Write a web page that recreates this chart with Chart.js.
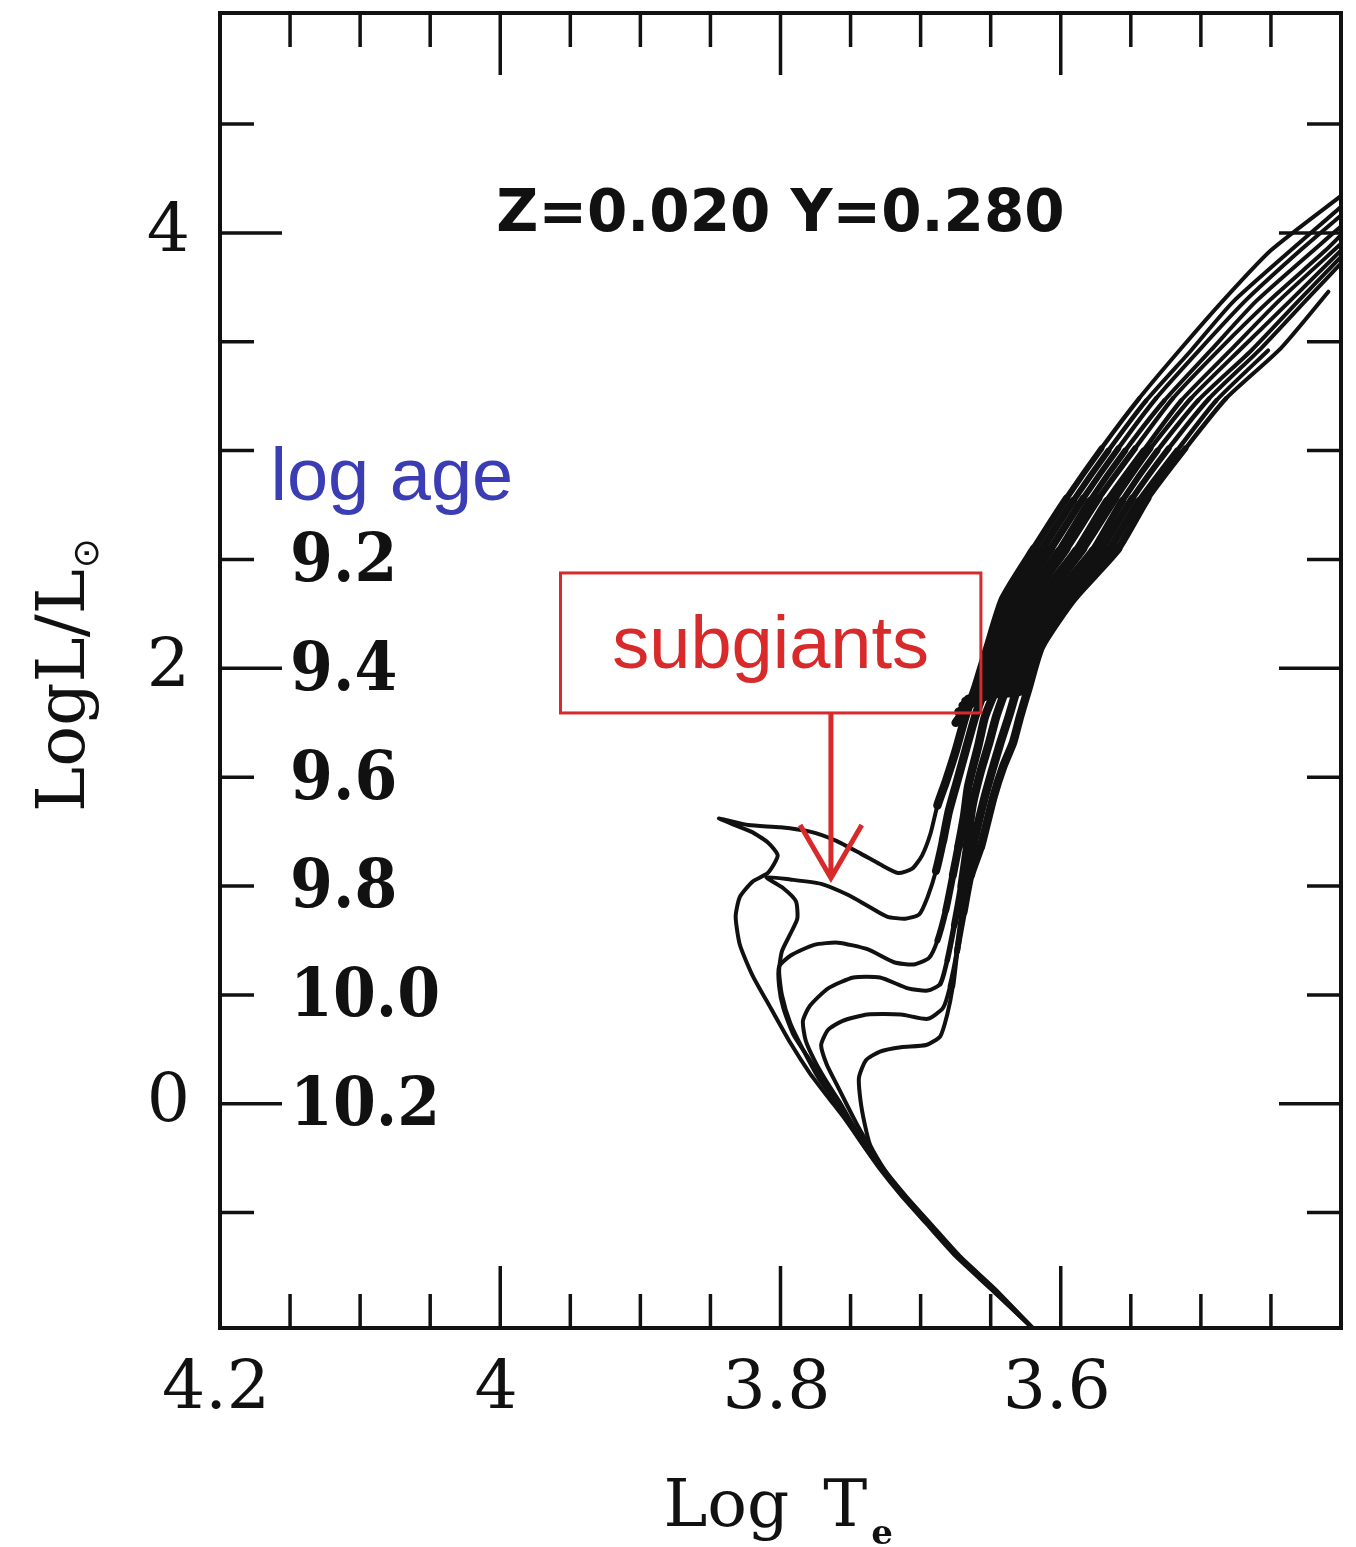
<!DOCTYPE html>
<html>
<head>
<meta charset="utf-8">
<script src="https://cdn.jsdelivr.net/npm/chart.js@4.4.1/dist/chart.umd.min.js"></script>
<style>
  html, body { margin: 0; padding: 0; background: #fff; }
  canvas { display: block; }
</style>
</head>
<body>
<canvas id="hr" width="1356" height="1547"></canvas>
<script>
/* global Chart:readonly */
// HR diagram: isochrones for log age 9.2 .. 10.2, Z=0.020 Y=0.280

// [log Te, log L/Lsun] along each isochrone: lower main sequence -> turnoff -> subgiants -> giant branch
const iso92 = [
  [3.617, -1.05], [3.650, -0.85], [3.675, -0.70], [3.696, -0.55], [3.714, -0.42], [3.729, -0.30],
  [3.741, -0.19], [3.754, -0.07], [3.766, 0.03], [3.779, 0.14], [3.793, 0.28], [3.807, 0.44],
  [3.820, 0.59], [3.829, 0.73], [3.832, 0.86], [3.829, 0.95], [3.820, 1.02], [3.809, 1.06],
  [3.802, 1.14], [3.809, 1.20], [3.821, 1.25], [3.844, 1.31], [3.823, 1.28], [3.800, 1.27],
  [3.779, 1.25], [3.761, 1.21], [3.743, 1.15], [3.729, 1.10], [3.716, 1.06], [3.706, 1.08],
  [3.699, 1.14], [3.693, 1.24], [3.688, 1.37], [3.682, 1.48], [3.675, 1.62], [3.668, 1.78],
  [3.661, 1.91], [3.652, 2.10], [3.641, 2.32], [3.619, 2.55], [3.596, 2.78], [3.571, 3.01],
  [3.544, 3.24], [3.514, 3.47], [3.484, 3.69], [3.450, 3.92], [3.400, 4.17]
]
const iso94 = [
  [3.617, -1.05], [3.6494, -0.85], [3.6744, -0.70], [3.6954, -0.55], [3.7134, -0.42], [3.7284, -0.30],
  [3.741, -0.19], [3.751, -0.09], [3.762, 0.02], [3.773, 0.12], [3.784, 0.25], [3.793, 0.37],
  [3.799, 0.50], [3.801, 0.61], [3.799, 0.70], [3.793, 0.78], [3.788, 0.85], [3.789, 0.93],
  [3.798, 0.99], [3.810, 1.04], [3.793, 1.03], [3.771, 1.01], [3.752, 0.96], [3.738, 0.91],
  [3.724, 0.86], [3.711, 0.85], [3.701, 0.87], [3.695, 0.95], [3.689, 1.07], [3.684, 1.21],
  [3.680, 1.34], [3.674, 1.48], [3.668, 1.62], [3.661, 1.78], [3.654, 1.91], [3.645, 2.10],
  [3.631, 2.32], [3.607, 2.55], [3.584, 2.78], [3.559, 3.01], [3.532, 3.24], [3.500, 3.47],
  [3.468, 3.69], [3.429, 3.92], [3.400, 4.08]
]
const iso96 = [
  [3.617, -1.05], [3.6488, -0.85], [3.6738, -0.70], [3.6948, -0.55], [3.7128, -0.42], [3.7278, -0.30],
  [3.740, -0.19], [3.750, -0.10], [3.760, 0.00], [3.770, 0.11], [3.781, 0.22], [3.791, 0.32],
  [3.798, 0.44], [3.801, 0.54], [3.801, 0.63], [3.793, 0.68], [3.776, 0.73], [3.759, 0.74],
  [3.738, 0.71], [3.719, 0.65], [3.705, 0.64], [3.694, 0.67], [3.688, 0.75], [3.682, 0.89],
  [3.677, 1.05], [3.673, 1.18], [3.669, 1.32], [3.666, 1.46], [3.659, 1.64], [3.654, 1.78],
  [3.646, 1.91], [3.638, 2.10], [3.621, 2.32], [3.596, 2.55], [3.573, 2.78], [3.547, 3.01],
  [3.520, 3.24], [3.486, 3.47], [3.451, 3.69], [3.411, 3.92], [3.400, 3.99]
]
const iso98 = [
  [3.617, -1.05], [3.6482, -0.85], [3.6732, -0.70], [3.6942, -0.55], [3.7122, -0.42], [3.7272, -0.30],
  [3.739, -0.19], [3.748, -0.10], [3.757, 0.00], [3.766, 0.09], [3.775, 0.19], [3.782, 0.29],
  [3.784, 0.38], [3.779, 0.45], [3.766, 0.53], [3.748, 0.58], [3.729, 0.58], [3.709, 0.53],
  [3.695, 0.52], [3.686, 0.55], [3.681, 0.66], [3.676, 0.82], [3.671, 1.00], [3.667, 1.18],
  [3.663, 1.37], [3.657, 1.53], [3.651, 1.66], [3.646, 1.78], [3.639, 1.91], [3.629, 2.10],
  [3.611, 2.32], [3.584, 2.55], [3.561, 2.78], [3.536, 3.01], [3.507, 3.24], [3.471, 3.47],
  [3.436, 3.69], [3.400, 3.92]
]
const iso100 = [
  [3.617, -1.05], [3.6476, -0.85], [3.6726, -0.70], [3.6936, -0.55], [3.7116, -0.42], [3.7266, -0.30],
  [3.737, -0.19], [3.745, -0.10], [3.753, 0.00], [3.760, 0.09], [3.767, 0.18], [3.771, 0.27],
  [3.766, 0.34], [3.756, 0.38], [3.738, 0.41], [3.714, 0.41], [3.695, 0.39], [3.684, 0.44],
  [3.679, 0.54], [3.674, 0.70], [3.670, 0.89], [3.666, 1.07], [3.661, 1.23], [3.655, 1.39],
  [3.649, 1.53], [3.643, 1.66], [3.637, 1.78], [3.631, 1.91], [3.621, 2.10], [3.601, 2.32],
  [3.571, 2.55], [3.549, 2.78], [3.523, 3.01], [3.494, 3.24], [3.457, 3.47], [3.425, 3.69],
  [3.400, 3.86]
]
const iso102 = [
  [3.617, -1.05], [3.647, -0.85], [3.672, -0.70], [3.693, -0.55], [3.711, -0.42], [3.726, -0.30],
  [3.736, -0.19], [3.740, -0.09], [3.743, 0.02], [3.744, 0.12], [3.739, 0.20], [3.729, 0.24],
  [3.714, 0.26], [3.696, 0.27], [3.686, 0.31], [3.681, 0.41], [3.677, 0.54], [3.674, 0.70],
  [3.669, 0.88], [3.664, 1.05], [3.657, 1.18], [3.648, 1.41], [3.641, 1.55], [3.634, 1.66],
  [3.629, 1.78], [3.623, 1.91], [3.614, 2.10], [3.591, 2.32], [3.559, 2.55], [3.538, 2.78],
  [3.511, 3.01], [3.482, 3.24], [3.443, 3.47], [3.409, 3.73]
]

// Clump and asymptotic giant branch pieces, threaded through the giant branch bundle
const agb92 = [
  [3.675, 1.75], [3.666, 1.83], [3.657, 1.90], [3.649, 2.08], [3.636, 2.31], [3.614, 2.54],
  [3.591, 2.77], [3.566, 3.00], [3.539, 3.23], [3.507, 3.46], [3.476, 3.69], [3.400, 4.12]
]
const agb94 = [
  [3.673, 1.80], [3.661, 1.85], [3.650, 1.90], [3.641, 2.08], [3.626, 2.31], [3.601, 2.54],
  [3.579, 2.77], [3.554, 3.00], [3.526, 3.23], [3.493, 3.46], [3.460, 3.69], [3.400, 4.03]
]
const agb96 = [
  [3.670, 1.83], [3.659, 1.86], [3.643, 1.90], [3.634, 2.08], [3.616, 2.31], [3.589, 2.54],
  [3.567, 2.77], [3.541, 3.00], [3.514, 3.23], [3.479, 3.46], [3.444, 3.69], [3.400, 3.95]
]
const agb98 = [
  [3.668, 1.85], [3.654, 1.88], [3.636, 1.90], [3.625, 2.08], [3.606, 2.31], [3.577, 2.54],
  [3.556, 2.77], [3.531, 3.00], [3.502, 3.23], [3.464, 3.46], [3.430, 3.69], [3.400, 3.89]
]
const agb100 = [
  [3.666, 1.86], [3.650, 1.88], [3.627, 1.90], [3.618, 2.08], [3.596, 2.31], [3.566, 2.54],
  [3.544, 2.77], [3.517, 3.00], [3.489, 3.23], [3.452, 3.46]
]

const ages = ['9.2', '9.4', '9.6', '9.8', '10.0', '10.2']
const isochrones = [iso92, iso94, iso96, iso98, iso100, iso102]
const agbs = [agb92, agb94, agb96, agb98, agb100]

// Ticks: every 0.05 in log Te, every 0.5 in log L
const tempTicks = [4.2, 4.15, 4.1, 4.05, 4.0, 3.95, 3.9, 3.85, 3.8, 3.75, 3.7, 3.65, 3.6, 3.55, 3.5, 3.45, 3.4]
const tempLabelValues = [4.2, 4.0, 3.8, 3.6]
const tempLabels = ['4.2', '4', '3.8', '3.6']
const lumTicks = [-0.5, 0, 0.5, 1, 1.5, 2, 2.5, 3, 3.5, 4, 4.5]
const lumLabelValues = [0, 2, 4]
const lumLabels = ['0', '2', '4']

const composition = 'Z=0.020 Y=0.280'
const note = 'subgiants'

const INK = '#111'
const RED = '#d8292b'
const BLUE = '#3a3db4'

const labelFor = function (values, labels, v) {
  const i = values.findIndex(t => Math.abs(t - v) < 1e-6)
  return i === -1 ? '' : labels[i]
}

// Where the giant branches crowd together the printed lines run into one dark band
const bundleWidth = function (seg) {
  const t = (seg.p0.parsed.x + seg.p1.parsed.x) / 2
  const l = (seg.p0.parsed.y + seg.p1.parsed.y) / 2
  if (t > 3.69 || l < 0.5 || l > 3.2) return 4
  if (l < 1.2) return 4 + (l - 0.5) / 0.7 * 4.5
  if (l < 2.5) return 8.5
  return 8.5 - (l - 2.5) / 0.7 * 4.5
}

const lineSet = function (label, points) {
  return {
    label,
    data: points.map(([t, l]) => ({ x: t, y: l })),
    showLine: true,
    fill: false,
    borderColor: INK,
    borderWidth: 4,
    borderCapStyle: 'round',
    borderJoinStyle: 'round',
    segment: { borderWidth: bundleWidth },
    pointRadius: 0,
    tension: 0.2
  }
}

// Frame plus inward ticks on all four sides
const frameTicks = {
  id: 'frameTicks',
  afterDatasetsDraw (chart) {
    const { ctx, chartArea: a, scales: { x, y } } = chart
    ctx.save()
    ctx.strokeStyle = INK
    ctx.lineWidth = 3.5
    ctx.beginPath()
    x.ticks.forEach(t => {
      const px = x.getPixelForValue(t.value)
      if (px < a.left + 3 || px > a.right - 3) return
      const len = labelFor(tempLabelValues, tempLabels, t.value) ? 62 : 34
      ctx.moveTo(px, a.bottom)
      ctx.lineTo(px, a.bottom - len)
      ctx.moveTo(px, a.top)
      ctx.lineTo(px, a.top + len)
    })
    y.ticks.forEach(t => {
      const py = y.getPixelForValue(t.value)
      if (py < a.top + 3 || py > a.bottom - 3) return
      const len = labelFor(lumLabelValues, lumLabels, t.value) ? 62 : 34
      ctx.moveTo(a.left, py)
      ctx.lineTo(a.left + len, py)
      ctx.moveTo(a.right, py)
      ctx.lineTo(a.right - len, py)
    })
    ctx.stroke()
    ctx.lineWidth = 4
    ctx.strokeRect(a.left, a.top, a.right - a.left, a.bottom - a.top)
    ctx.restore()
  }
}

// Texts, the age key, the subgiant call-out and both axis titles
const annotations = {
  id: 'annotations',
  afterDraw (chart) {
    const { ctx, chartArea: a, scales: { x, y } } = chart
    ctx.save()

    ctx.fillStyle = INK
    ctx.font = 'bold 58px "DejaVu Sans"'
    ctx.textAlign = 'center'
    ctx.textBaseline = 'alphabetic'
    ctx.fillText(composition, x.getPixelForValue(3.8), y.getPixelForValue(4.01))

    // age key, one label per isochrone, stepped down the half-unit ticks
    ctx.fillStyle = BLUE
    ctx.font = '74px "Liberation Sans"'
    ctx.textAlign = 'left'
    ctx.fillText('log age', x.getPixelForValue(4.164), y.getPixelForValue(2.773))
    ctx.fillStyle = INK
    ctx.font = 'bold 67px "DejaVu Serif"'
    ctx.textBaseline = 'middle'
    const kx = x.getPixelForValue(4.15)
    ages.forEach((age, i) => {
      ctx.save()
      ctx.translate(kx, y.getPixelForValue(2.5 - i * 0.5) + 4)
      ctx.scale(0.92, 1)
      ctx.fillText(age, 0, 0)
      ctx.restore()
    })

    // subgiants box and arrow
    ctx.strokeStyle = RED
    ctx.lineWidth = 3
    const bx0 = x.getPixelForValue(3.957)
    const bx1 = x.getPixelForValue(3.657)
    const by0 = y.getPixelForValue(2.438)
    const by1 = y.getPixelForValue(1.795)
    ctx.strokeRect(bx0, by0, bx1 - bx0, by1 - by0)
    ctx.fillStyle = RED
    ctx.font = '74px "Liberation Sans"'
    ctx.textAlign = 'center'
    ctx.textBaseline = 'alphabetic'
    ctx.fillText(note, x.getPixelForValue(3.807), y.getPixelForValue(2.0))

    const ax = x.getPixelForValue(3.764)
    const tip = y.getPixelForValue(1.037)
    ctx.lineWidth = 5
    ctx.beginPath()
    ctx.moveTo(ax, by1)
    ctx.lineTo(ax, tip)
    ctx.moveTo(x.getPixelForValue(3.786), y.getPixelForValue(1.28))
    ctx.lineTo(ax, tip)
    ctx.lineTo(x.getPixelForValue(3.742), y.getPixelForValue(1.28))
    ctx.stroke()

    // x title: Log T_e
    ctx.fillStyle = INK
    ctx.textAlign = 'left'
    ctx.textBaseline = 'alphabetic'
    ctx.font = '66px "DejaVu Serif"'
    const cx = (a.left + a.right) / 2
    const base = a.bottom + 198
    let tx = cx - 117
    ctx.fillText('Log', tx, base)
    tx += ctx.measureText('Log').width + 34
    ctx.fillText('T', tx, base)
    tx += ctx.measureText('T').width + 4
    ctx.font = 'bold 34px "DejaVu Serif"'
    ctx.fillText('e', tx, base + 18)

    // y title: LogL/L_sun, rotated
    ctx.translate(84, (a.top + a.bottom) / 2 + 5)
    ctx.rotate(-Math.PI / 2)
    ctx.font = '68px "DejaVu Serif"'
    const main = 'LogL/L'
    const w = ctx.measureText(main).width
    ctx.font = '36px "DejaVu Sans"'
    const sw = ctx.measureText('⊙').width
    const start = -(w + sw) / 2
    ctx.font = '68px "DejaVu Serif"'
    ctx.fillText(main, start, 0)
    ctx.font = '36px "DejaVu Sans"'
    ctx.fillText('⊙', start + w + 1, 14)

    ctx.restore()
  }
}

const chart = new Chart(document.getElementById('hr').getContext('2d'), {
  type: 'scatter',
  data: {
    datasets: [
      ...isochrones.map((iso, i) => lineSet('log age ' + ages[i], iso)),
      ...agbs.map((agb, i) => lineSet('AGB ' + ages[i], agb))
    ]
  },
  options: {
    responsive: false,
    animation: false,
    layout: { padding: { top: 13, right: 15, left: 0, bottom: 0 } },
    plugins: {
      legend: { display: false },
      tooltip: { enabled: false }
    },
    scales: {
      x: {
        type: 'linear',
        min: 3.4,
        max: 4.2,
        reverse: true,
        afterBuildTicks: s => { s.ticks = tempTicks.map(v => ({ value: v })) },
        afterFit: s => {
          s.height = 219
          s.paddingLeft = 0
          s.paddingRight = 0
        },
        grid: { display: false, drawTicks: false },
        border: { display: false },
        ticks: {
          autoSkip: false,
          maxRotation: 0,
          minRotation: 0,
          padding: 22,
          labelOffset: -4,
          color: INK,
          font: { family: 'DejaVu Serif', size: 68 },
          callback: v => labelFor(tempLabelValues, tempLabels, v)
        }
      },
      y: {
        type: 'linear',
        min: -1.03,
        max: 5.01,
        afterBuildTicks: s => { s.ticks = lumTicks.map(v => ({ value: v })) },
        afterFit: s => {
          s.width = 220
          s.paddingTop = 0
          s.paddingBottom = 0
        },
        grid: { display: false, drawTicks: false },
        border: { display: false },
        ticks: {
          autoSkip: false,
          padding: 30,
          color: INK,
          font: { family: 'DejaVu Serif', size: 68 },
          callback: v => labelFor(lumLabelValues, lumLabels, v)
        }
      }
    }
  },
  plugins: [frameTicks, annotations]
})
</script>
</body>
</html>
